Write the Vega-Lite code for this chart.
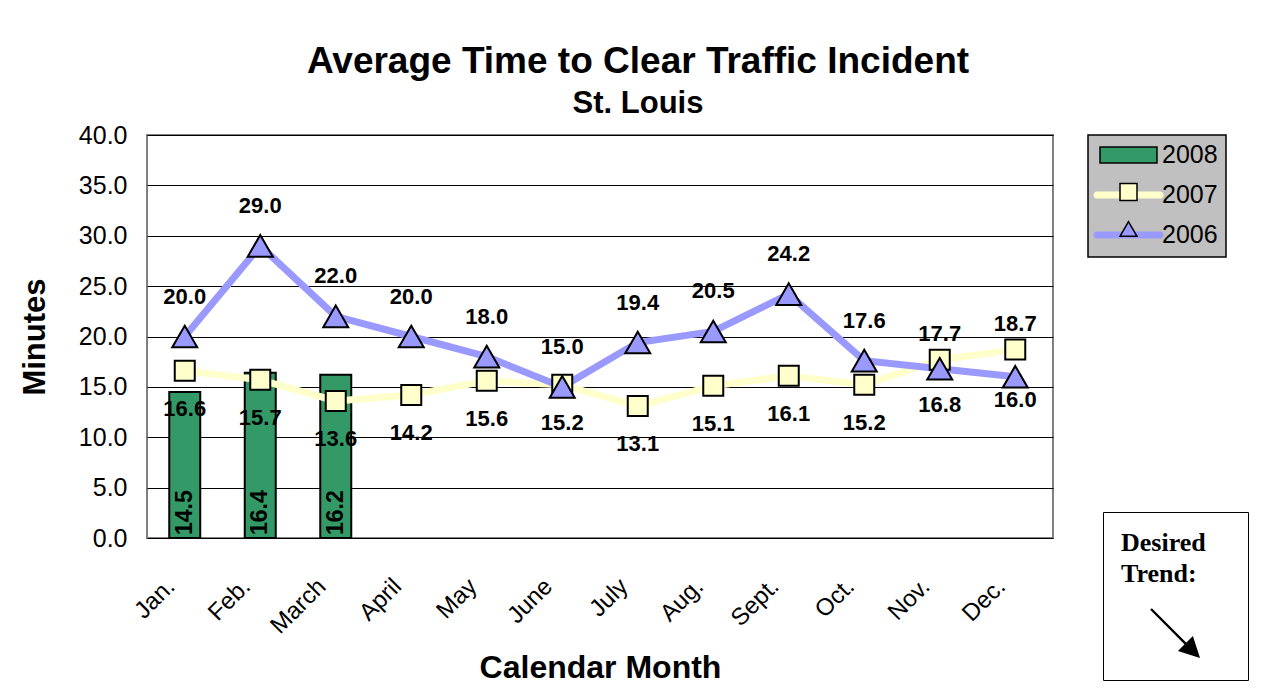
{
  "$schema": "https://vega.github.io/schema/vega-lite/v6.json",
  "width": 906,
  "height": 403,
  "autosize": {"type": "none"},
  "padding": {"left": 147, "top": 135, "right": 212, "bottom": 158},
  "background": "white",
  "title": {
    "text": "Average Time to Clear Traffic Incident",
    "subtitle": "St. Louis",
    "anchor": "middle",
    "dx": 38,
    "font": "Liberation Sans",
    "subtitleFont": "Liberation Sans",
    "fontSize": 37,
    "subtitleFontSize": 31,
    "fontWeight": "bold",
    "subtitleFontWeight": "bold",
    "color": "black",
    "subtitleColor": "black",
    "offset": 3,
    "subtitlePadding": 8
  },
  "config": {
    "font": "Liberation Sans",
    "view": {"fill": "#C0C0C0", "stroke": "#808080", "strokeWidth": 2}
  },
  "datasets": {
    "main": [
      {"month": "Jan.", "series": "2008", "value": 14.5},
      {"month": "Feb.", "series": "2008", "value": 16.4},
      {"month": "March", "series": "2008", "value": 16.2},
      {"month": "Jan.", "series": "2007", "value": 16.6},
      {"month": "Feb.", "series": "2007", "value": 15.7},
      {"month": "March", "series": "2007", "value": 13.6},
      {"month": "April", "series": "2007", "value": 14.2},
      {"month": "May", "series": "2007", "value": 15.6},
      {"month": "June", "series": "2007", "value": 15.2},
      {"month": "July", "series": "2007", "value": 13.1},
      {"month": "Aug.", "series": "2007", "value": 15.1},
      {"month": "Sept.", "series": "2007", "value": 16.1},
      {"month": "Oct.", "series": "2007", "value": 15.2},
      {"month": "Nov.", "series": "2007", "value": 17.7},
      {"month": "Dec.", "series": "2007", "value": 18.7},
      {"month": "Jan.", "series": "2006", "value": 20.0},
      {"month": "Feb.", "series": "2006", "value": 29.0},
      {"month": "March", "series": "2006", "value": 22.0},
      {"month": "April", "series": "2006", "value": 20.0},
      {"month": "May", "series": "2006", "value": 18.0},
      {"month": "June", "series": "2006", "value": 15.0},
      {"month": "July", "series": "2006", "value": 19.4},
      {"month": "Aug.", "series": "2006", "value": 20.5},
      {"month": "Sept.", "series": "2006", "value": 24.2},
      {"month": "Oct.", "series": "2006", "value": 17.6},
      {"month": "Nov.", "series": "2006", "value": 16.8},
      {"month": "Dec.", "series": "2006", "value": 16.0}
    ]
  },
  "data": {"name": "main"},
  "resolve": {"scale": {"color": "independent", "shape": "independent"}},
  "layer": [
    {
      "transform": [{"filter": "datum.series == '2008'"}],
      "mark": {"type": "bar", "size": 31, "fill": "#339966", "stroke": "black", "strokeWidth": 2},
      "encoding": {
        "x": {
          "field": "month", "type": "nominal",
          "scale": {"domain": ["Jan.", "Feb.", "March", "April", "May", "June", "July", "Aug.", "Sept.", "Oct.", "Nov.", "Dec."], "paddingInner": 0, "paddingOuter": 0},
          "axis": {
            "title": "Calendar Month",
            "titleFont": "Liberation Sans",
            "titleFontSize": 32,
            "titleFontWeight": "bold",
            "titleColor": "black",
            "titlePadding": 14,
            "labelAngle": -45,
            "labelFont": "Liberation Sans",
            "labelFontSize": 24,
            "labelColor": "black",
            "labelPadding": 36,
            "labelOffset": -22,
            "ticks": false,
            "domain": false,
            "grid": false
          }
        },
        "y": {
          "field": "value", "type": "quantitative",
          "scale": {"domain": [0, 40], "nice": false},
          "axis": {
            "title": "Minutes",
            "titleFont": "Liberation Sans",
            "titleFontSize": 31,
            "titleFontWeight": "bold",
            "titleColor": "black",
            "titlePadding": 27,
            "values": [0, 5, 10, 15, 20, 25, 30, 35, 40],
            "format": ".1f",
            "labelFont": "Liberation Sans",
            "labelFontSize": 25,
            "labelColor": "black",
            "labelPadding": 20,
            "ticks": false,
            "domain": false,
            "grid": true,
            "gridColor": "black",
            "gridWidth": 1,
            "gridOpacity": 1
          }
        }
      }
    },
    {
      "transform": [{"filter": "datum.series != '2008'"}],
      "mark": {"type": "line", "strokeWidth": 7},
      "encoding": {
        "x": {"field": "month", "type": "nominal"},
        "y": {"field": "value", "type": "quantitative"},
        "color": {
          "field": "series", "type": "nominal",
          "scale": {"domain": ["2008", "2007", "2006"], "range": ["transparent", "#FFFFCC", "#9999FF"]},
          "legend": {
            "title": null,
            "orient": "none",
            "legendX": 941,
            "legendY": 0,
            "padding": 7.5,
            "symbolOffset": 20.5,
            "labelOffset": 21,
            "symbolSize": 289,
            "symbolType": "M-3.7,0H3.7",
            "symbolStrokeWidth": 7,
            "symbolFillColor": "transparent",
            "labelFont": "Liberation Sans",
            "labelFontSize": 25,
            "labelColor": "black",
            "rowPadding": 11,
            "fillColor": "#C0C0C0",
            "strokeColor": "black",
            "zindex": 0,
            "encode": {
              "legend": {"update": {"strokeWidth": {"value": 1.5}}},
              "symbols": {"update": {"fill": {"value": "transparent"}, "strokeWidth": {"value": 7}, "strokeCap": {"value": "round"}}}
            }
          }
        }
      }
    },
    {
      "layer": [
        {
          "transform": [{"filter": "datum.series == '2007'"}],
          "mark": {"type": "point", "filled": true, "size": 400, "stroke": "black", "strokeWidth": 2, "opacity": 1},
          "encoding": {
            "x": {"field": "month", "type": "nominal"},
            "y": {"field": "value", "type": "quantitative"},
            "color": {
              "field": "series", "type": "nominal",
              "scale": {"domain": ["2008", "2007", "2006"], "range": ["#339966", "#FFFFCC", "#9999FF"]},
              "legend": {
                "title": null,
                "orient": "none",
                "legendX": 941,
                "legendY": 0,
                "padding": 7.5,
                "symbolOffset": 20.5,
                "labelOffset": 21,
                "symbolSize": 289,
                "labelFont": "Liberation Sans",
                "labelFontSize": 25,
                "labelColor": "transparent",
                "rowPadding": 11,
                "zindex": 1,
                "encode": {
                  "symbols": {"update": {"stroke": {"value": "black"}, "strokeWidth": {"value": 2}, "opacity": {"value": 1}}}
                }
              }
            },
            "shape": {
              "field": "series", "type": "nominal",
              "scale": {"domain": ["2008", "2007", "2006"], "range": ["M-3.35,-0.94H3.35V0.94H-3.35Z", "square", "triangle-up"]}
            }
          }
        },
        {
          "transform": [{"filter": "datum.series == '2006'"}],
          "mark": {"type": "point", "filled": true, "size": 625, "stroke": "black", "strokeWidth": 2, "opacity": 1},
          "encoding": {
            "x": {"field": "month", "type": "nominal"},
            "y": {"field": "value", "type": "quantitative"},
            "color": {"field": "series", "type": "nominal"},
            "shape": {"field": "series", "type": "nominal"}
          }
        }
      ]
    },
    {
      "transform": [{"filter": "datum.series == '2006' && datum.month != 'Nov.' && datum.month != 'Dec.'"}],
      "mark": {"type": "text", "dy": -33, "baseline": "alphabetic", "font": "Liberation Sans", "fontSize": 22, "fontWeight": "bold", "color": "black"},
      "encoding": {
        "x": {"field": "month", "type": "nominal"},
        "y": {"field": "value", "type": "quantitative"},
        "text": {"field": "value", "type": "quantitative", "format": ".1f"}
      }
    },
    {
      "transform": [{"filter": "datum.series == '2007' && datum.month != 'Nov.' && datum.month != 'Dec.'"}],
      "mark": {"type": "text", "dy": 45, "baseline": "alphabetic", "font": "Liberation Sans", "fontSize": 22, "fontWeight": "bold", "color": "black"},
      "encoding": {
        "x": {"field": "month", "type": "nominal"},
        "y": {"field": "value", "type": "quantitative"},
        "text": {"field": "value", "type": "quantitative", "format": ".1f"}
      }
    },
    {
      "transform": [{"filter": "datum.series == '2007' && (datum.month == 'Nov.' || datum.month == 'Dec.')"}],
      "mark": {"type": "text", "dy": -19, "baseline": "alphabetic", "font": "Liberation Sans", "fontSize": 22, "fontWeight": "bold", "color": "black"},
      "encoding": {
        "x": {"field": "month", "type": "nominal"},
        "y": {"field": "value", "type": "quantitative"},
        "text": {"field": "value", "type": "quantitative", "format": ".1f"}
      }
    },
    {
      "transform": [{"filter": "datum.series == '2006' && datum.month == 'Nov.'"}],
      "mark": {"type": "text", "dy": 43, "baseline": "alphabetic", "font": "Liberation Sans", "fontSize": 22, "fontWeight": "bold", "color": "black"},
      "encoding": {
        "x": {"field": "month", "type": "nominal"},
        "y": {"field": "value", "type": "quantitative"},
        "text": {"field": "value", "type": "quantitative", "format": ".1f"}
      }
    },
    {
      "transform": [{"filter": "datum.series == '2006' && datum.month == 'Dec.'"}],
      "mark": {"type": "text", "dy": 30, "baseline": "alphabetic", "font": "Liberation Sans", "fontSize": 22, "fontWeight": "bold", "color": "black"},
      "encoding": {
        "x": {"field": "month", "type": "nominal"},
        "y": {"field": "value", "type": "quantitative"},
        "text": {"field": "value", "type": "quantitative", "format": ".1f"}
      }
    },
    {
      "transform": [{"filter": "datum.series == '2008'"}],
      "mark": {"type": "text", "angle": 270, "align": "left", "baseline": "middle", "dx": 3, "font": "Liberation Sans", "fontSize": 23, "fontWeight": "bold", "color": "black"},
      "encoding": {
        "x": {"field": "month", "type": "nominal"},
        "y": {"datum": 0},
        "text": {"field": "value", "type": "quantitative", "format": ".1f"}
      }
    },
    {
      "data": {"values": [{"note": "Desired Trend:"}]},
      "mark": {"type": "point", "filled": true, "color": "black", "fill": "black", "stroke": "black", "strokeWidth": 2, "opacity": 0},
      "encoding": {
        "shape": {
          "field": "note", "type": "nominal",
          "scale": {"range": ["M-0.965,-1.035L0.485,0.415L0.415,0.485L-1.035,-0.965ZM1,1L0.1,0.71L0.71,0.1Z"]},
          "legend": {
            "title": ["Desired", "Trend:"],
            "titleFont": "Liberation Serif",
            "titleFontSize": 26,
            "titleFontWeight": "bold",
            "titleColor": "black",
            "titleLineHeight": 31,
            "titlePadding": 21,
            "orient": "none",
            "legendX": 956,
            "legendY": 377,
            "padding": 18,
            "fillColor": "white",
            "strokeColor": "black",
            "symbolSize": 2401,
            "symbolOffset": 29,
            "labelOffset": 29,
            "labelExpr": "''",
            "symbolOpacity": 1,
            "symbolFillColor": "black",
            "symbolStrokeColor": "black",
            "symbolStrokeWidth": 2,
            "zindex": 2,
            "encode": {
              "legend": {"update": {"strokeWidth": {"value": 2}}},
              "symbols": {"update": {"opacity": {"value": 1}, "fill": {"value": "black"}, "stroke": {"value": "black"}, "strokeWidth": {"value": 2}}}
            }
          }
        }
      }
    }
  ]
}
